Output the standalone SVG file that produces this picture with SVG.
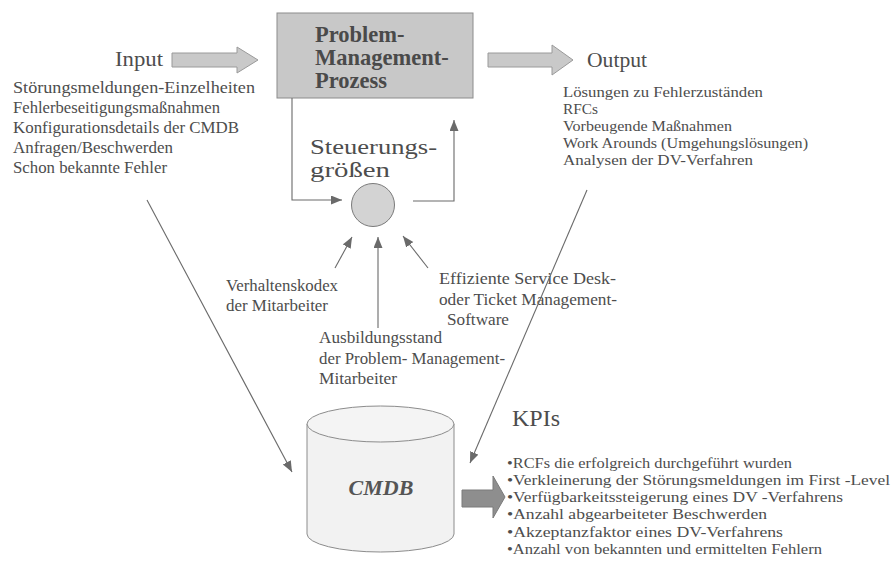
<svg xmlns="http://www.w3.org/2000/svg" width="892" height="570" viewBox="0 0 892 570">
  <defs>
    <marker id="arr" markerUnits="userSpaceOnUse" markerWidth="12" markerHeight="10" refX="11" refY="4.5" orient="auto">
      <path d="M0,0 L11,4.5 L0,9 z" fill="#6a6a6a"/>
    </marker>
  </defs>
  <style>
    text { font-family: "Liberation Serif", "Times New Roman", serif; fill: #4d4d4d; }
    .head { font-size: 20px; }
    .lst { font-size: 16.5px; }
    .sm { font-size: 15px; }
    .lbl { font-size: 16px; }
    .ptitle { font-size: 22.5px; font-weight: bold; fill: #4a4a4a; }
    .fat { fill: #c9c9c9; stroke: #9a9a9a; stroke-width: 1; }
    .line { fill: none; stroke: #6a6a6a; stroke-width: 1.1; marker-end: url(#arr); }
  </style>
  <rect width="892" height="570" fill="#ffffff"/>

  <!-- Input block -->
  <g id="input">
    <text class="head" x="115" y="66" textLength="48" lengthAdjust="spacingAndGlyphs">Input</text>
    <polygon class="fat" points="172,53 237,53 237,47 258,60 237,73 237,67 172,67"/>
    <g class="lst">
      <text x="13" y="93" textLength="242" lengthAdjust="spacingAndGlyphs">Störungsmeldungen-Einzelheiten</text>
      <text x="13" y="113" textLength="207" lengthAdjust="spacingAndGlyphs">Fehlerbeseitigungsmaßnahmen</text>
      <text x="13" y="133" textLength="226" lengthAdjust="spacingAndGlyphs">Konfigurationsdetails der CMDB</text>
      <text x="13" y="153" textLength="160" lengthAdjust="spacingAndGlyphs">Anfragen/Beschwerden</text>
      <text x="13" y="173" textLength="154" lengthAdjust="spacingAndGlyphs">Schon bekannte Fehler</text>
    </g>
  </g>

  <!-- Process box -->
  <g id="prozess">
    <rect x="277" y="13" width="196" height="85" fill="#c8c8c8" stroke="#8c8c8c" stroke-width="1"/>
    <text class="ptitle" x="315" y="42">Problem-</text>
    <text class="ptitle" x="315" y="65">Management-</text>
    <text class="ptitle" x="315" y="88">Prozess</text>
  </g>

  <!-- Output block -->
  <g id="output">
    <polygon class="fat" points="488,53 552,53 552,45 573,60 552,75 552,67 488,67"/>
    <text class="head" x="587" y="67" textLength="60" lengthAdjust="spacingAndGlyphs">Output</text>
    <g class="sm">
      <text x="563" y="97" textLength="200" lengthAdjust="spacingAndGlyphs">Lösungen zu Fehlerzuständen</text>
      <text x="563" y="114" textLength="35" lengthAdjust="spacingAndGlyphs">RFCs</text>
      <text x="563" y="131" textLength="169" lengthAdjust="spacingAndGlyphs">Vorbeugende Maßnahmen</text>
      <text x="563" y="148" textLength="245" lengthAdjust="spacingAndGlyphs">Work Arounds (Umgehungslösungen)</text>
      <text x="563" y="165" textLength="190" lengthAdjust="spacingAndGlyphs">Analysen der DV-Verfahren</text>
    </g>
  </g>

  <!-- Control variables -->
  <g id="steuerung">
    <text x="310" y="154" style="font-size:22px" textLength="127" lengthAdjust="spacingAndGlyphs">Steuerungs-</text>
    <text x="310" y="177" style="font-size:22px" textLength="80" lengthAdjust="spacingAndGlyphs">größen</text>
    <circle cx="373" cy="205" r="21.5" fill="#d3d3d3" stroke="#7a7a7a" stroke-width="1"/>
  </g>

  <!-- Influencing factors -->
  <g id="verhalten">
    <text class="lbl" x="226" y="291" textLength="112" lengthAdjust="spacingAndGlyphs">Verhaltenskodex</text>
    <text class="lbl" x="226" y="311" textLength="102" lengthAdjust="spacingAndGlyphs">der Mitarbeiter</text>
  </g>
  <g id="ausbildung">
    <text class="lbl" x="319" y="343" textLength="123" lengthAdjust="spacingAndGlyphs">Ausbildungsstand</text>
    <text class="lbl" x="319" y="364" textLength="186" lengthAdjust="spacingAndGlyphs">der Problem- Management-</text>
    <text class="lbl" x="319" y="384" textLength="78" lengthAdjust="spacingAndGlyphs">Mitarbeiter</text>
  </g>
  <g id="software">
    <text class="lbl" x="439" y="284" textLength="177" lengthAdjust="spacingAndGlyphs">Effiziente Service Desk-</text>
    <text class="lbl" x="439" y="305" textLength="178" lengthAdjust="spacingAndGlyphs">oder Ticket Management-</text>
    <text class="lbl" x="447" y="325" textLength="62" lengthAdjust="spacingAndGlyphs">Software</text>
  </g>

  <!-- CMDB cylinder -->
  <g id="cmdb">
    <path d="M307,424 L307,534 A73.5,18 0 0 0 454,534 L454,424" fill="#f2f2f2" stroke="#8c8c8c" stroke-width="1"/>
    <ellipse cx="380.5" cy="424" rx="73.5" ry="18" fill="#f4f4f4" stroke="#8c8c8c" stroke-width="1"/>
    <text x="381" y="495" text-anchor="middle" style="font-size:22px;font-weight:bold;font-style:italic;fill:#555">CMDB</text>
  </g>

  <!-- KPI block -->
  <g id="kpis">
    <polygon points="462,490 493,490 493,476 505,497 493,518 493,507 462,507" fill="#8e8e8e" stroke="#7a7a7a" stroke-width="1"/>
    <text x="512" y="426" style="font-size:23px" textLength="48" lengthAdjust="spacingAndGlyphs">KPIs</text>
    <g class="sm">
      <text x="507" y="468" textLength="285" lengthAdjust="spacingAndGlyphs">•RCFs die erfolgreich durchgeführt wurden</text>
      <text x="507" y="485" textLength="383" lengthAdjust="spacingAndGlyphs">•Verkleinerung der Störungsmeldungen im First -Level</text>
      <text x="507" y="502" textLength="336" lengthAdjust="spacingAndGlyphs">•Verfügbarkeitssteigerung eines DV -Verfahrens</text>
      <text x="507" y="519" textLength="260" lengthAdjust="spacingAndGlyphs">•Anzahl abgearbeiteter Beschwerden</text>
      <text x="507" y="537" textLength="276" lengthAdjust="spacingAndGlyphs">•Akzeptanzfaktor eines DV-Verfahrens</text>
      <text x="507" y="554" textLength="315" lengthAdjust="spacingAndGlyphs">•Anzahl von bekannten und ermittelten Fehlern</text>
    </g>
  </g>

  <!-- Connectors -->
  <g id="connectors">
    <polyline class="line" points="292,98 292,200 342,200"/>
    <polyline class="line" points="413,201 454,201 454,120"/>
    <line class="line" x1="335" y1="268" x2="352" y2="237"/>
    <line class="line" x1="378" y1="328" x2="378" y2="237"/>
    <line class="line" x1="428" y1="268" x2="403" y2="236"/>
    <line class="line" x1="147" y1="200" x2="292" y2="472"/>
    <line class="line" x1="587" y1="190" x2="470" y2="463"/>
  </g>
</svg>
